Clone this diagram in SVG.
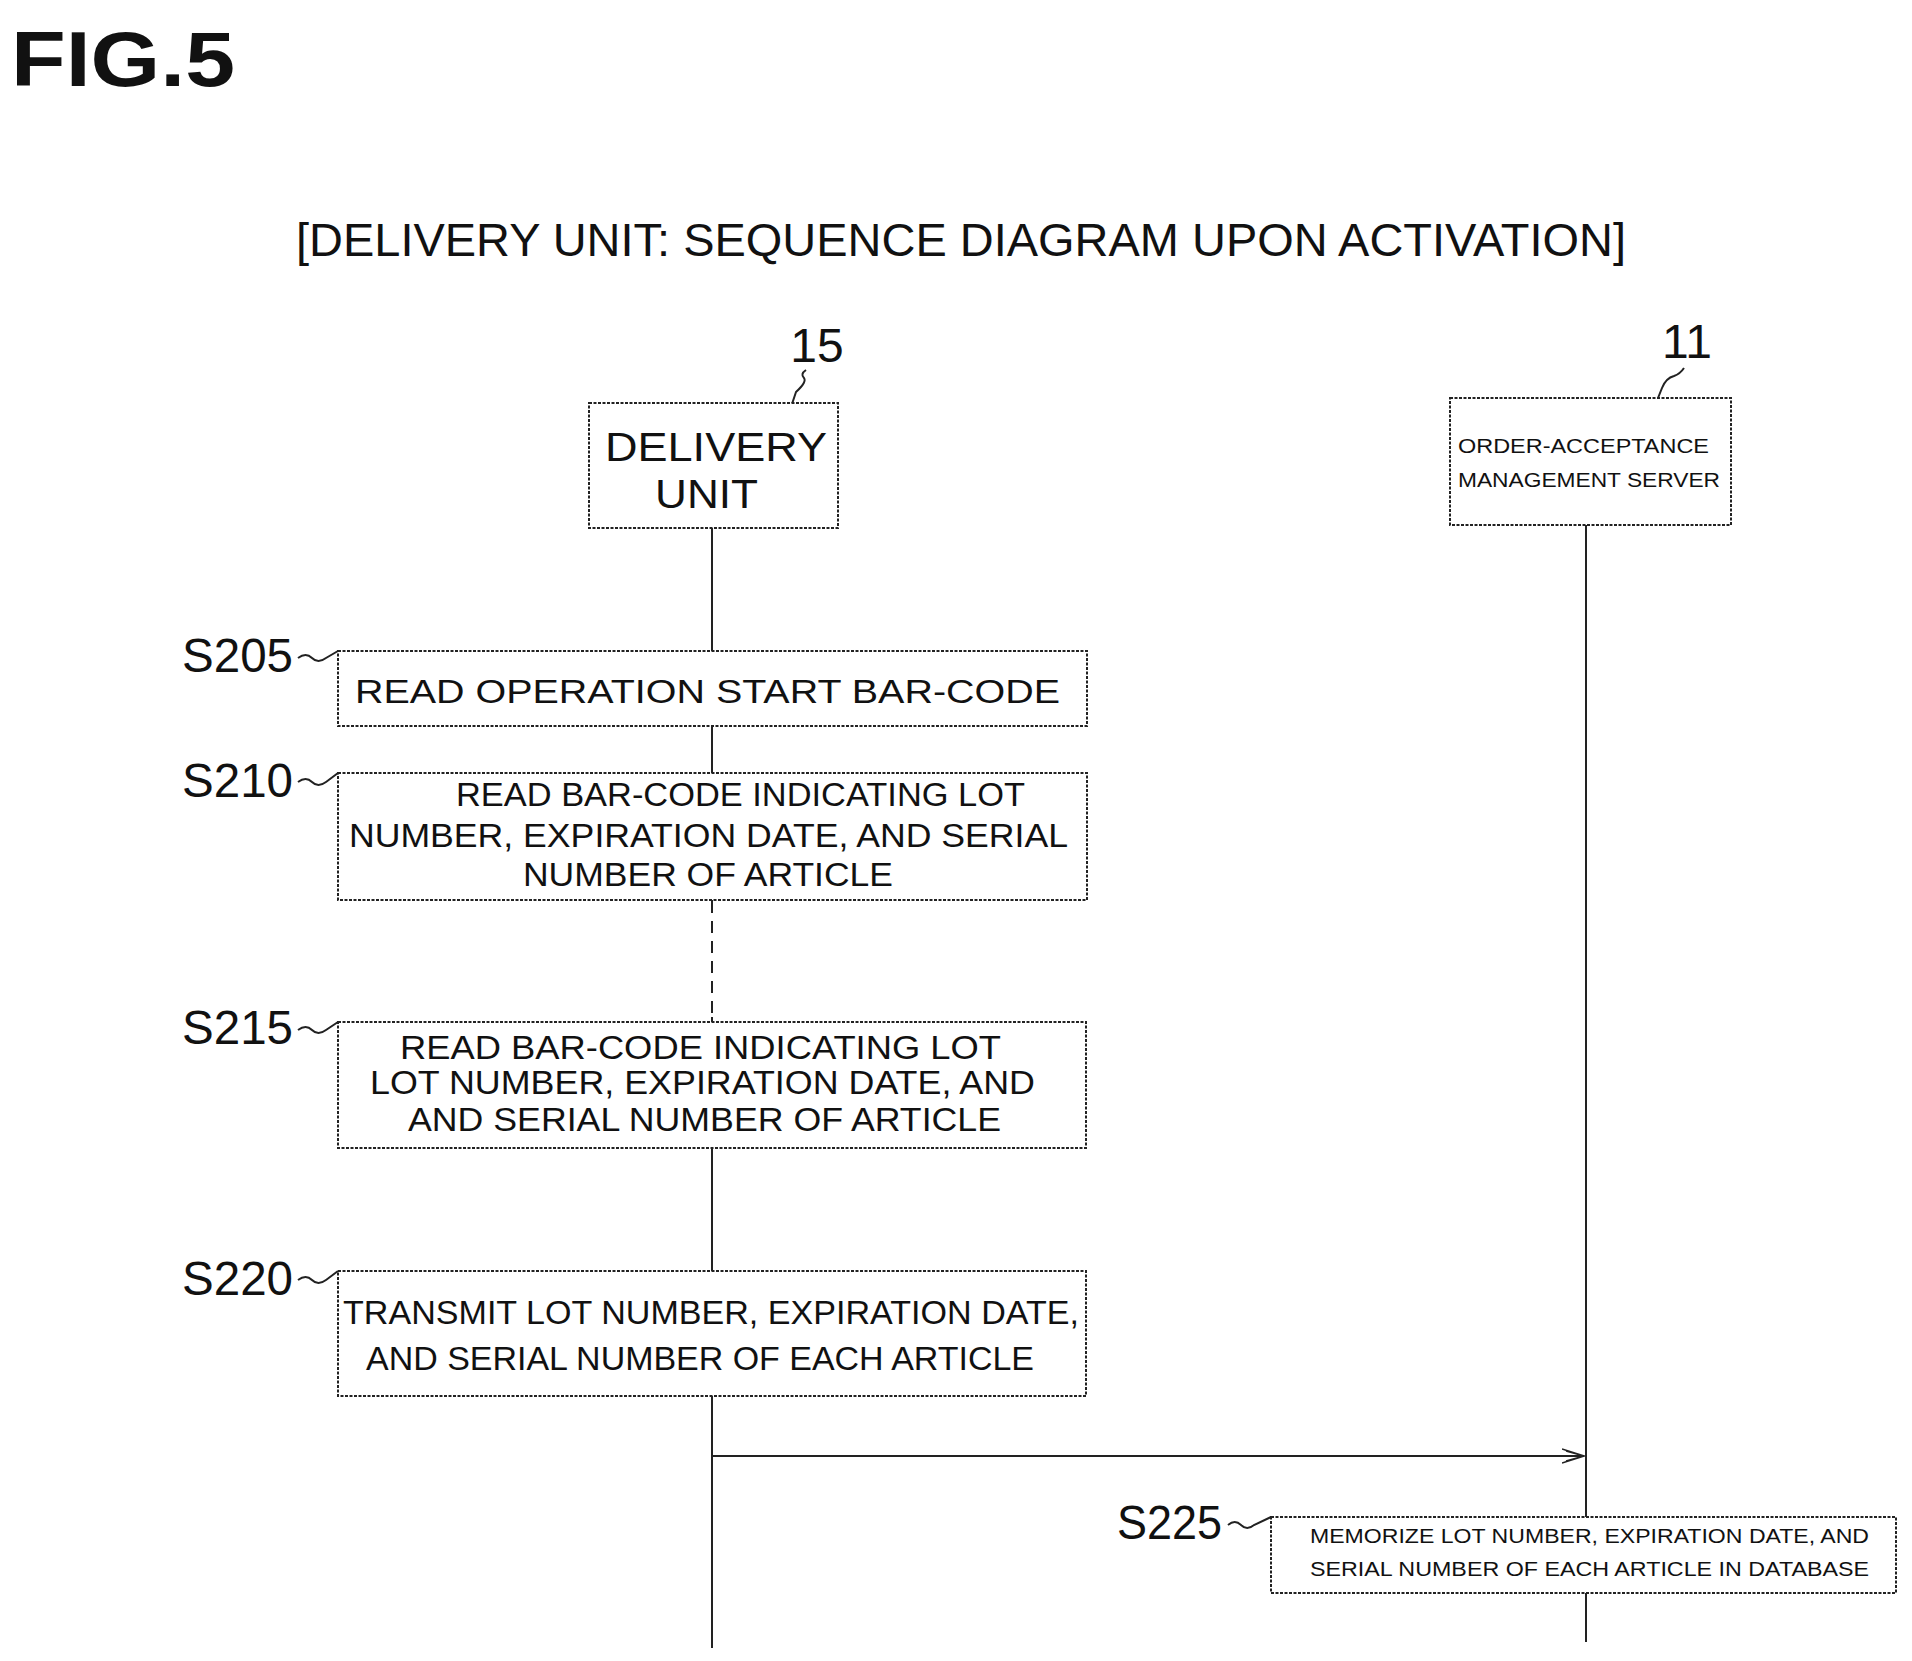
<svg xmlns="http://www.w3.org/2000/svg" width="1912" height="1661" viewBox="0 0 1912 1661">
<style>
text{font-family:"Liberation Sans",Arial,sans-serif;fill:#111}
.b{fill:#fff;stroke:#222;stroke-width:2;stroke-dasharray:3 1.5}
.t{font-size:34px}
.s{font-size:20px}
.l{font-size:48px}
.ln{stroke:#222;stroke-width:2;fill:none}
</style>
<defs><marker id="a" markerWidth="24" markerHeight="16" refX="22" refY="8" orient="auto" markerUnits="userSpaceOnUse"><path d="M0,1 L22,8 L0,15 M4,3 L22,8 L4,13" fill="none" stroke="#222" stroke-width="1.5"/></marker></defs>
<g transform="translate(-4,0)">
<text x="15" y="86" font-size="78" font-weight="bold" textLength="224" lengthAdjust="spacingAndGlyphs">FIG.5</text>
<text x="300" y="256" font-size="46" textLength="1330" lengthAdjust="spacingAndGlyphs">[DELIVERY UNIT: SEQUENCE DIAGRAM UPON ACTIVATION]</text>
<g id="connectors">
<path class="ln" d="M716 528 V901 M716 1017 V1648"/>
<path class="ln" d="M716 901 V1017" stroke-dasharray="12 8"/>
<path class="ln" d="M1590 525 V1642"/>
<path class="ln" d="M716 1456 H1588" marker-end="url(#a)"/>
</g>
<g id="n15">
<text x="821" y="362" class="l" text-anchor="middle">15</text>
<path class="ln" d="M810 370 q-6 4 -2 8 q3 4 -8 14 l-4 12" stroke-width="1.5"/>
<rect class="b" x="593" y="403" width="249" height="125"/>
<text x="609" y="461" font-size="40" textLength="222" lengthAdjust="spacingAndGlyphs">DELIVERY</text>
<text x="659" y="508" font-size="40" textLength="103" lengthAdjust="spacingAndGlyphs">UNIT</text>
</g>
<g id="n11">
<text x="1691" y="358" class="l" text-anchor="middle">11</text>
<path class="ln" d="M1688 368 q-4 6 -10 8 q-8 2 -12 12 l-4 10" stroke-width="1.5"/>
<rect class="b" x="1454" y="398" width="281" height="127"/>
<text x="1462" y="453" class="s" textLength="251" lengthAdjust="spacingAndGlyphs">ORDER-ACCEPTANCE</text>
<text x="1462" y="487" class="s" textLength="262" lengthAdjust="spacingAndGlyphs">MANAGEMENT SERVER</text>
</g>
<g id="s205">
<text x="186" y="672" class="l" textLength="111" lengthAdjust="spacingAndGlyphs">S205</text>
<path class="ln" d="M302 658 q8 -6 14 0 q6 6 14 0 l12 -7" stroke-width="1.5"/>
<rect class="b" x="342" y="651" width="749" height="75"/>
<text x="359" y="703" class="t" textLength="705" lengthAdjust="spacingAndGlyphs">READ OPERATION START BAR-CODE</text>
</g>
<g id="s210">
<text x="186" y="797" class="l" textLength="111" lengthAdjust="spacingAndGlyphs">S210</text>
<path class="ln" d="M302 782 q8 -6 14 0 q6 6 14 0 l12 -9" stroke-width="1.5"/>
<rect class="b" x="342" y="773" width="749" height="127"/>
<text x="460" y="806" class="t" textLength="569" lengthAdjust="spacingAndGlyphs">READ BAR-CODE INDICATING LOT</text>
<text x="353" y="847" class="t" textLength="719" lengthAdjust="spacingAndGlyphs">NUMBER, EXPIRATION DATE, AND SERIAL</text>
<text x="527" y="886" class="t" textLength="370" lengthAdjust="spacingAndGlyphs">NUMBER OF ARTICLE</text>
</g>
<g id="s215">
<text x="186" y="1044" class="l" textLength="111" lengthAdjust="spacingAndGlyphs">S215</text>
<path class="ln" d="M302 1030 q8 -6 14 0 q6 6 14 0 l12 -8" stroke-width="1.5"/>
<rect class="b" x="342" y="1022" width="748" height="126"/>
<text x="404" y="1059" class="t" textLength="601" lengthAdjust="spacingAndGlyphs">READ BAR-CODE INDICATING LOT</text>
<text x="374" y="1094" class="t" textLength="665" lengthAdjust="spacingAndGlyphs">LOT NUMBER, EXPIRATION DATE, AND</text>
<text x="412" y="1131" class="t" textLength="593" lengthAdjust="spacingAndGlyphs">AND SERIAL NUMBER OF ARTICLE</text>
</g>
<g id="s220">
<text x="186" y="1295" class="l" textLength="111" lengthAdjust="spacingAndGlyphs">S220</text>
<path class="ln" d="M302 1280 q8 -6 14 0 q6 6 14 0 l12 -9" stroke-width="1.5"/>
<rect class="b" x="342" y="1271" width="748" height="125"/>
<text x="347" y="1324" class="t" textLength="736" lengthAdjust="spacingAndGlyphs">TRANSMIT LOT NUMBER, EXPIRATION DATE,</text>
<text x="370" y="1370" class="t" textLength="668" lengthAdjust="spacingAndGlyphs">AND SERIAL NUMBER OF EACH ARTICLE</text>
</g>
<g id="s225">
<text x="1121" y="1539" class="l" textLength="105" lengthAdjust="spacingAndGlyphs">S225</text>
<path class="ln" d="M1232 1525 q7 -6 13 0 q6 6 13 0 l17 -8" stroke-width="1.5"/>
<rect class="b" x="1275" y="1517" width="625" height="76"/>
<text x="1314" y="1543" class="s" textLength="559" lengthAdjust="spacingAndGlyphs">MEMORIZE LOT NUMBER, EXPIRATION DATE, AND</text>
<text x="1314" y="1576" class="s" textLength="559" lengthAdjust="spacingAndGlyphs">SERIAL NUMBER OF EACH ARTICLE IN DATABASE</text>
</g>
</g>
</svg>
